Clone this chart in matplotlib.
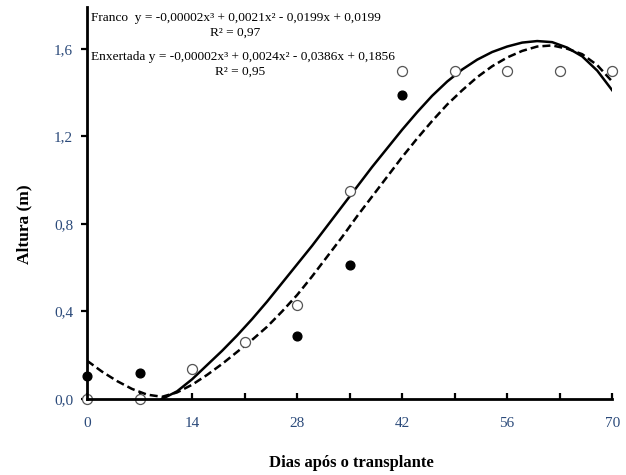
import matplotlib
matplotlib.use("Agg")
import matplotlib.pyplot as plt
import matplotlib.ticker as mticker

SERIF = ["Liberation Serif", "DejaVu Serif"]
TICK_COLOR = "#2b4a7a"

# observed points (days after transplant, height m)
dias = [0, 7, 14, 21, 28, 35, 42, 49, 56, 63, 70]
franco_obs = [0.0, 0.0, 0.137, 0.26, 0.43, 0.95, 1.50, 1.50, 1.50, 1.50, 1.50]
enxertada_obs = [0.105, 0.117, 0.137, 0.26, 0.29, 0.61, 1.39, 1.50, 1.50, 1.50, 1.50]

# fitted curves
franco_x = [10, 12, 14, 16, 18, 20, 22, 24, 26, 28, 30, 32, 34, 36, 38, 40,
            42, 44, 46, 48, 50, 52, 54, 56, 58, 60, 62, 64, 66, 68, 70]
franco_fit = [0.0, 0.035, 0.09, 0.155, 0.22, 0.29, 0.365, 0.445, 0.53, 0.615,
              0.70, 0.79, 0.88, 0.97, 1.06, 1.145, 1.23, 1.31, 1.385, 1.45,
              1.505, 1.55, 1.585, 1.61, 1.628, 1.635, 1.63, 1.605, 1.565, 1.50, 1.41]
enx_x = [0, 2, 4, 6, 8, 10, 12, 14, 16, 18, 20, 22, 24, 26, 28, 30, 32, 34, 36,
         38, 40, 42, 44, 46, 48, 50, 52, 54, 56, 58, 60, 62, 64, 66, 68, 70]
enx_fit = [0.175, 0.125, 0.082, 0.046, 0.020, 0.01, 0.03, 0.065, 0.11, 0.16,
           0.215, 0.27, 0.33, 0.40, 0.475, 0.56, 0.65, 0.74, 0.835, 0.925,
           1.015, 1.105, 1.19, 1.27, 1.345, 1.41, 1.47, 1.52, 1.56, 1.59, 1.61,
           1.615, 1.60, 1.575, 1.525, 1.45]

y_ticks = [0.0, 0.4, 0.8, 1.2, 1.6]
x_ticks = [0, 14, 28, 42, 56, 70]

fig = plt.figure(figsize=(6.26, 4.75), dpi=100, facecolor="white")
ax = fig.add_axes([0.139, 0.160, 0.839, 0.825])

ax.plot(franco_x, franco_fit, color="black", lw=1.8, zorder=2)
ax.plot(enx_x, enx_fit, color="black", lw=1.8, ls=(0, (3.2, 1.6)), zorder=2)

ax.plot(dias, enxertada_obs, ls="none", marker="o", ms=6.3,
        mfc="black", mec="black", clip_on=False, zorder=3)
ax.plot(dias, franco_obs, ls="none", marker="o", ms=7.2,
        mfc="white", mec="#555555", mew=0.9, clip_on=False, zorder=4)

ax.set_xlim(0, 70)
ax.set_ylim(0, 1.79)

for side in ("top", "right"):
    ax.spines[side].set_visible(False)
for side in ("left", "bottom"):
    ax.spines[side].set_linewidth(2.0)
    ax.spines[side].set_zorder(5)

ax.set_xticks(x_ticks)
ax.xaxis.set_minor_locator(mticker.FixedLocator([7, 21, 35, 49, 63]))
ax.set_yticks(y_ticks)
ax.yaxis.set_major_formatter(mticker.FuncFormatter(lambda v, _: f"{v:.1f}".replace(".", ",")))

ax.tick_params(axis="x", which="both", direction="in", length=4, width=1.6,
               pad=13, labelsize=11, labelcolor=TICK_COLOR)
ax.tick_params(axis="y", which="both", direction="out", length=4, width=1.6,
               pad=6, labelsize=11, labelcolor=TICK_COLOR)
for lab in ax.get_xticklabels() + ax.get_yticklabels():
    lab.set_family(SERIF)

# axis titles
fig.text(351 / 626, 1 - 463 / 475, "Dias após o transplante", ha="center",
         va="center", fontsize=12, fontweight="bold", family=SERIF)
fig.text(24 / 626, 1 - 224 / 475, "Altura (m)", ha="center", va="center",
         rotation=90, fontsize=12.5, fontweight="bold", family=SERIF)

# equations
fig.text(0.146, 0.962, "Franco  y = -0,00002x³ + 0,0021x² - 0,0199x + 0,0199",
         ha="left", va="center", fontsize=9.6, family=SERIF)
fig.text(0.376, 0.932, "R² = 0,97", ha="center", va="center",
         fontsize=9.6, family=SERIF)
fig.text(0.146, 0.880, "Enxertada y = -0,00002x³ + 0,0024x² - 0,0386x + 0,1856",
         ha="left", va="center", fontsize=9.6, family=SERIF)
fig.text(0.384, 0.848, "R² = 0,95", ha="center", va="center",
         fontsize=9.6, family=SERIF)

fig.savefig("out.png", dpi=100, facecolor="white")
